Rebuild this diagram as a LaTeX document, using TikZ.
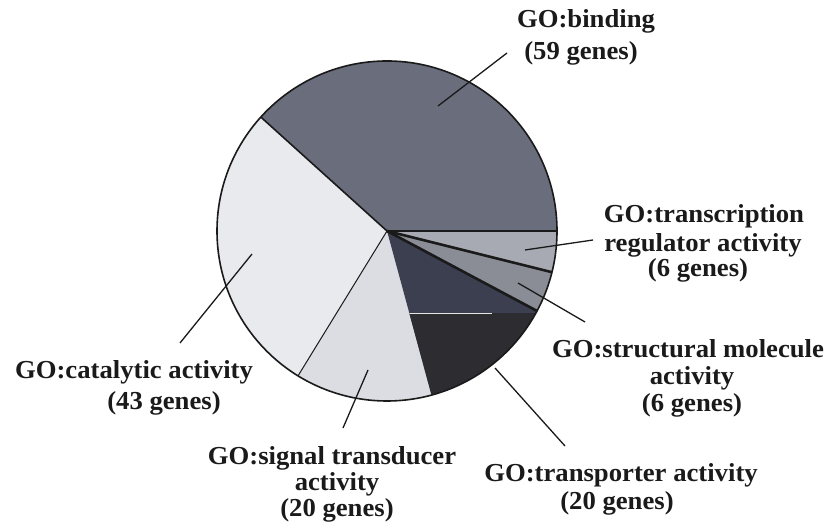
\documentclass[tikz,border=0pt]{standalone}
\usepackage{fontspec}
\newfontfamily\lblfont[FakeStretch=1.03]{Liberation Serif}
\definecolor{cBind}{HTML}{6A6D7C}
\definecolor{cCat}{HTML}{E9EAEE}
\definecolor{cSig}{HTML}{DCDDE3}
\definecolor{cTrpA}{HTML}{3C3F50}
\definecolor{cTrpB}{HTML}{2C2C31}
\definecolor{cStr}{HTML}{8A8D96}
\definecolor{cTrc}{HTML}{A7AAB2}
\definecolor{cEdge}{HTML}{1A1A1A}
\begin{document}
\begin{tikzpicture}[x=1bp,y=1bp,
  lbl/.style={font=\lblfont\fontsize{26}{28}\selectfont\bfseries, inner sep=0pt, anchor=base, text=cEdge},
  leader/.style={draw=cEdge, line width=1.3bp},
  border/.style={draw=cEdge, line width=1.6bp}]
\useasboundingbox[fill=white] (0,0) rectangle (834,531);
\coordinate (c) at (387,300);
\def\R{170}
% slices
\fill[cBind] (c) -- ++(0:\R) arc[start angle=0, end angle=137.92, radius=\R] -- cycle;
\fill[cCat] (c) -- ++(137.92:\R) arc[start angle=137.92, end angle=238.44, radius=\R] -- cycle;
\fill[cSig] (c) -- ++(238.44:\R) arc[start angle=238.44, end angle=285.19, radius=\R] -- cycle;
\fill[cTrpA] (c) -- ++(285.19:\R) arc[start angle=285.19, end angle=331.95, radius=\R] -- cycle;
\begin{scope}
  \clip (c) -- ++(285.19:\R) arc[start angle=285.19, end angle=331.95, radius=\R] -- cycle;
  \fill[cTrpB] (200,100) rectangle (600,218);
  \draw[white!80!gray, line width=0.8bp] (400,218) -- (492,218);
\end{scope}
\fill[cStr] (c) -- ++(331.95:\R) arc[start angle=331.95, end angle=345.97, radius=\R] -- cycle;
\fill[cTrc] (c) -- ++(345.97:\R) arc[start angle=345.97, end angle=360, radius=\R] -- cycle;
% slice boundaries
\draw[cEdge, line width=1.2bp] (c) -- ++(0:\R);
\draw[cEdge, line width=1.6bp] (c) -- ++(137.92:\R);
\draw[cEdge, line width=1bp] (c) -- ++(238.44:\R);
\draw[cEdge, line width=2.6bp] (c) -- ++(331.95:\R);
\draw[cEdge, line width=2.6bp] (c) -- ++(345.97:\R);
\draw[border] (c) circle[radius=\R];
% leader lines
\coordinate (bA) at (438,425); \coordinate (bB) at (507,478);
\coordinate (tA) at (525,281); \coordinate (tB) at (593,291);
\coordinate (sA) at (518,248); \coordinate (sB) at (585,209);
\coordinate (pA) at (495,163); \coordinate (pB) at (565,85);
\coordinate (gA) at (368,161); \coordinate (gB) at (343,103);
\coordinate (kA) at (252,277); \coordinate (kB) at (180,188);
\draw[leader] (bA) -- (bB);
\draw[leader] (tA) -- (tB);
\draw[leader] (sA) -- (sB);
\draw[leader] (pA) -- (pB);
\draw[leader] (gA) -- (gB);
\draw[leader] (kA) -- (kB);
% labels
\node[lbl] (bind1) at (586,503) {GO:binding};
\node[lbl] (bind2) at (581,471) {(59 genes)};
\node[lbl] (trc1) at (704,308) {GO:transcription};
\node[lbl] (trc2) at (703,279) {regulator activity};
\node[lbl] (trc3) at (698,254) {(6 genes)};
\node[lbl] (str1) at (688,173) {GO:structural molecule};
\node[lbl] (str2) at (692,146) {activity};
\node[lbl] (str3) at (692,119) {(6 genes)};
\node[lbl] (trp1) at (621,49) {GO:transporter activity};
\node[lbl] (trp2) at (617,21) {(20 genes)};
\node[lbl] (sig1) at (332,66) {GO:signal transducer};
\node[lbl] (sig2) at (337,40) {activity};
\node[lbl] (sig3) at (337,14) {(20 genes)};
\node[lbl] (cat1) at (134,152) {GO:catalytic activity};
\node[lbl] (cat2) at (164,121) {(43 genes)};
\end{tikzpicture}
\end{document}
